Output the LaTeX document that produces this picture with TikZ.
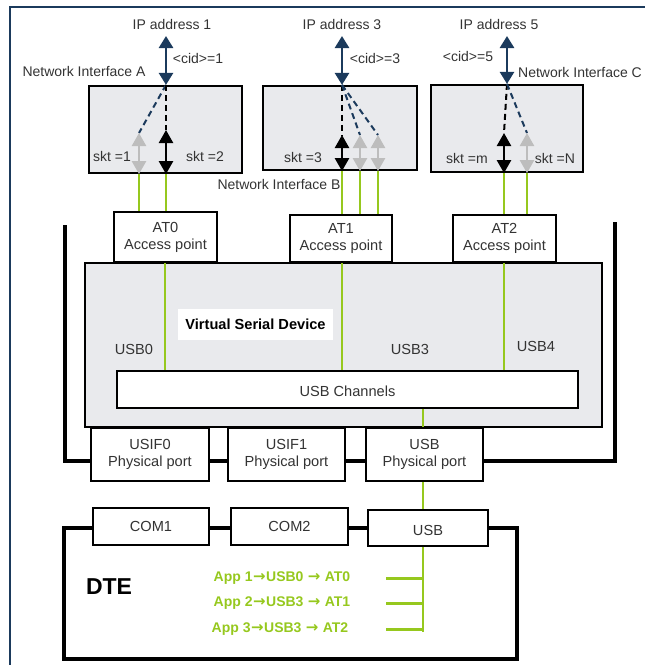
\documentclass[tikz,border=0pt]{standalone}
\usepackage{fontspec}
\setmainfont{Liberation Sans}
\newfontfamily\arrowfont{DejaVu Sans}
\usetikzlibrary{arrows.meta}
\definecolor{navy}{HTML}{1B3A5C}
\definecolor{lgreen}{HTML}{96C81E}
\definecolor{boxgray}{HTML}{E9EAED}
\definecolor{agray}{HTML}{BDBDBD}
\definecolor{txt}{HTML}{333333}
\newcommand{\appar}{\hspace{0.5pt}{\arrowfont\bfseries\fontsize{15}{15}\selectfont →}\hspace{0.5pt}}
\tikzset{
  netbox/.style={draw=black, line width=2.2pt, fill=boxgray, inner sep=0pt},
  wbox/.style={draw=black, line width=1.6pt, fill=white, inner sep=0pt, align=center, text=txt, font=\fontsize{14.6}{17}\selectfont},
  lbl/.style={text=txt, inner sep=0pt},
  ipa/.style={navy, line width=2.6pt, {Triangle[width=14pt,length=12pt]}-{Triangle[width=14pt,length=12pt]}},
  sarrow/.style={line width=2.4pt, {Triangle[width=14pt,length=13pt]}-{Triangle[width=14pt,length=13pt]}},
  dsh/.style={line width=2pt, dash pattern=on 6pt off 4pt},
  gline/.style={lgreen, line width=2.2pt},
  apptext/.style={text=lgreen, font=\fontsize{14}{15}\selectfont\bfseries, inner sep=0pt}
}
\begin{document}
\begin{tikzpicture}[x=1pt,y=-1pt, font=\fontsize{14}{17}\selectfont]
\useasboundingbox (0,0) rectangle (645,665);
% outer frame
\draw[navy, line width=2pt] (10,665) -- (10,7) -- (645,7);

% ---------- network interfaces ----------
\node[netbox, minimum width=153pt, minimum height=87pt] (nia) at (165.5,129.5) {};
\node[netbox, minimum width=154pt, minimum height=84pt] (nib) at (340,128) {};
\node[netbox, minimum width=152pt, minimum height=87pt] (nic) at (507,128.5) {};

\node[lbl] (ip1) at (172,24) {IP address 1};
\node[lbl] (ip3) at (342,24) {IP address 3};
\node[lbl] (ip5) at (499,24) {IP address 5};
\node[lbl] (cid1) at (198,58) {<cid>=1};
\node[lbl] (cid3) at (375,58) {<cid>=3};
\node[lbl] (cid5) at (468,56) {<cid>=5};
\node[lbl] (nia lbl) at (84,71) {Network Interface A};
\node[lbl] (nib lbl) at (279,184) {Network Interface B};
\node[lbl] (nic lbl) at (580,72) {Network Interface C};

% arrow endpoints
\coordinate (ta) at (166,36);
\coordinate (tb) at (342,36);
\coordinate (tc) at (507,36);
\coordinate (a1) at (139,133);
\coordinate (a2) at (166,130);
\coordinate (b1) at (342,135);
\coordinate (b2) at (360,135);
\coordinate (b3) at (378,135);
\coordinate (c1) at (504,133);
\coordinate (c2) at (527,133);

% IP arrows
\draw[ipa] (ta) -- (ta |- nia.north);
\draw[ipa] (tb) -- (tb |- nib.north);
\draw[ipa] (tc) -- (tc |- nic.north);

% dashed lines
\draw[dsh, navy] (ta |- nia.north) -- (a1);
\draw[dsh, black] (ta |- nia.north) -- (a2);
\draw[dsh, black] (tb |- nib.north) -- (b1);
\draw[dsh, navy] (tb |- nib.north) -- (b2);
\draw[dsh, navy] (tb |- nib.north) -- (b3);
\draw[dsh, black] (tc |- nic.north) -- (c1);
\draw[dsh, navy] (tc |- nic.north) -- (c2);

% socket arrows
\draw[sarrow, agray] (a1) -- (a1 |- nia.south);
\draw[sarrow, black] (a2) -- (a2 |- nia.south);
\draw[sarrow, black] (b1) -- (b1 |- nib.south);
\draw[sarrow, agray] (b2) -- (b2 |- nib.south);
\draw[sarrow, agray] (b3) -- (b3 |- nib.south);
\draw[sarrow, black] (c1) -- (c1 |- nic.south);
\draw[sarrow, agray] (c2) -- (c2 |- nic.south);

\node[lbl] (s1) at (112,156) {skt =1};
\node[lbl] (s2) at (205,156) {skt =2};
\node[lbl] (s3) at (303,157) {skt =3};
\node[lbl] (sm) at (467,158) {skt =m};
\node[lbl] (sn) at (555,158) {skt =N};

% ---------- bracket ----------
\draw[line width=4.5pt, black] (65,225) -- (65,461) -- (615,461) -- (615,222);

% ---------- virtual serial device ----------
\node[netbox, line width=1.8pt, minimum width=517pt, minimum height=164pt] (vsd) at (343.5,345) {};
\node[fill=white, minimum width=155pt, minimum height=31pt, inner sep=0pt, font=\fontsize{14.6}{17}\selectfont\bfseries] (vsdl) at (255.5,324.5) {Virtual Serial Device};

\node[wbox, minimum width=103pt, minimum height=50pt] (at0) at (165.5,237) {AT0\\Access point};
\node[wbox, minimum width=102pt, minimum height=47pt] (at1) at (341,238.5) {AT1\\Access point};
\node[wbox, minimum width=103pt, minimum height=47pt] (at2) at (504.5,238.5) {AT2\\Access point};

\node[wbox, minimum width=461pt, minimum height=37pt, text height=14pt, text depth=0pt] (chan) at (347.5,389.5) {USB Channels};

\node[lbl, font=\fontsize{14.6}{17}\selectfont] (u0) at (134,349) {USB0};
\node[lbl, font=\fontsize{14.6}{17}\selectfont] (u3) at (410,349) {USB3};
\node[lbl, font=\fontsize{14.6}{17}\selectfont] (u4) at (536,346) {USB4};

% green lines NI -> AT
\draw[gline] (a1 |- nia.south) -- (a1 |- at0.north);
\draw[gline] (a2 |- nia.south) -- (a2 |- at0.north);
\draw[gline] (b1 |- nib.south) -- (b1 |- at1.north);
\draw[gline] (b2 |- nib.south) -- (b2 |- at1.north);
\draw[gline] (b3 |- nib.south) -- (b3 |- at1.north);
\draw[gline] (c1 |- nic.south) -- (c1 |- at2.north);
\draw[gline] (c2 |- nic.south) -- (c2 |- at2.north);
% green lines AT -> channels
\coordinate (g0) at (165,0);
\coordinate (g1) at (342,0);
\coordinate (g2) at (504,0);
\draw[gline] (g0 |- at0.south) -- (g0 |- chan.north);
\draw[gline] (g1 |- at1.south) -- (g1 |- chan.north);
\draw[gline] (g2 |- at2.south) -- (g2 |- chan.north);

% physical ports
\node[wbox, minimum width=118pt, minimum height=53pt] (usif0) at (150,454.5) {USIF0\\Physical port};
\node[wbox, minimum width=117pt, minimum height=53pt] (usif1) at (286.5,454.5) {USIF1\\Physical port};
\node[wbox, minimum width=117pt, minimum height=53pt] (usbp) at (424.5,454.5) {USB\\Physical port};

% ---------- DTE ----------
\node[draw=black, line width=4pt, minimum width=453pt, minimum height=131pt, inner sep=0pt] (dte) at (290.5,593.5) {};
\node[inner sep=0pt, font=\fontsize{23}{25}\selectfont\bfseries] (dtel) at (109,587) {DTE};

\node[wbox, minimum width=116pt, minimum height=37pt] (com1) at (151,526.5) {COM1};
\node[wbox, minimum width=117pt, minimum height=37pt] (com2) at (289.5,526.5) {COM2};
\node[wbox, minimum width=120pt, minimum height=36pt, text height=15pt, text depth=0pt] (usbd) at (428,528) {USB};

% green USB path
\coordinate (gx) at (423,0);
\coordinate (gbot) at (423,632);
\draw[gline] (gx |- chan.south) -- (gx |- usbp.north);
\draw[gline] (gx |- usbp.south) -- (gx |- usbd.north);
\draw[gline, line width=2.6pt] (gx |- usbd.south) -- (gbot);
\coordinate (br1) at (386,578);
\coordinate (br2) at (386,603);
\coordinate (br3) at (386,629);
\draw[gline, line width=3pt] (br1) -- (br1 -| gbot);
\draw[gline, line width=3pt] (br2) -- (br2 -| gbot);
\draw[gline, line width=3pt] (br3) -- (br3 -| gbot);

\node[apptext] (app1) at (282,578) {App 1\appar USB0 \appar\ AT0};
\node[apptext] (app2) at (282,603) {App 2\appar USB3 \appar\ AT1};
\node[apptext] (app3) at (280,629) {App 3\appar USB3 \appar\ AT2};
\end{tikzpicture}
\end{document}
